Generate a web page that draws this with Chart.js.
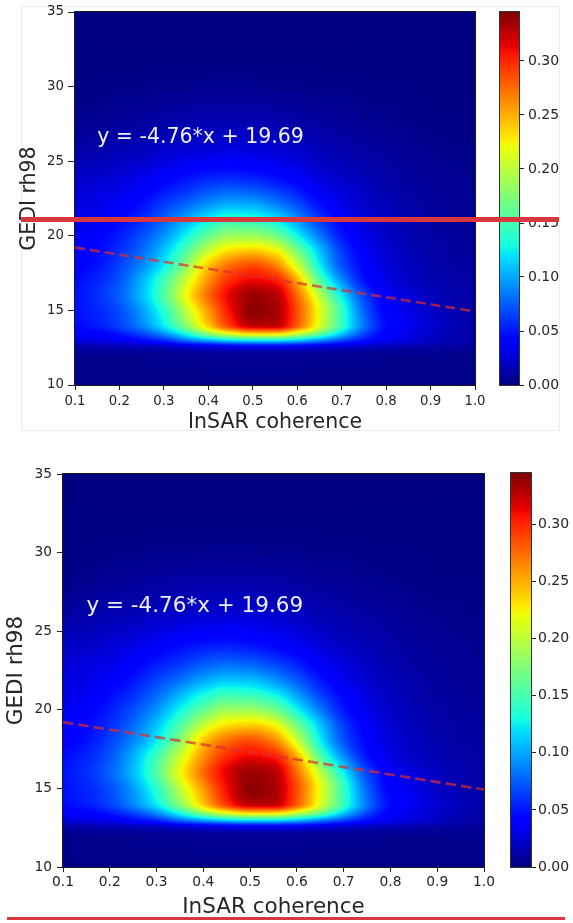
<!DOCTYPE html>
<html lang="en">
<head>
  <meta charset="UTF-8" />
  <title>GEDI rh98 vs InSAR coherence density</title>
  <script src="https://cdn.jsdelivr.net/npm/chart.js"></script>
  <style>
    html, body {
      margin: 0;
      padding: 0;
      background: #fff;
    }
    #page {
      position: relative;
      width: 573px;
      height: 923px;
      overflow: hidden;
    }
    #page canvas, #page .frame, #page .mark {
      position: absolute;
    }
    .frame {
      border: 1px solid #ececec;
    }
    .mark {
      background: #d8383d;
      z-index: 5;
    }
  </style>
</head>
<body>
<div id="page">
  <div class="frame" style="left:21px;top:6px;width:537px;height:423px"></div>
  <canvas id="topMain" width="490" height="440" style="left:0;top:0"></canvas>
  <canvas id="topBar" width="83" height="440" style="left:490px;top:0"></canvas>
  <canvas id="botMain" width="500" height="468" style="left:0;top:455px"></canvas>
  <canvas id="botBar" width="73" height="468" style="left:500px;top:455px"></canvas>
  <div class="mark" style="left:21px;top:217px;width:538px;height:5px"></div>
  <div class="mark" style="left:7px;top:917px;width:558px;height:3px"></div>
</div>

<script>
  // density grid: columns are InSAR coherence, rows are GEDI rh98 (m)
  const COHERENCE = [0.10, 0.15, 0.20, 0.25, 0.30, 0.35, 0.40, 0.45, 0.50, 0.55,
                     0.60, 0.65, 0.70, 0.75, 0.80, 0.85, 0.90, 0.95, 1.00];
  const RH98 = [10, 12, 12.5, 13, 13.5, 14, 15, 16, 17, 18, 19, 20, 21, 22, 23, 24, 25, 26, 27, 28, 30, 32, 35];

  const dens10   = [0.003,0.003,0.003,0.003,0.003,0.003,0.003,0.003,0.003,0.003,0.003,0.003,0.003,0.003,0.003,0.003,0.003,0.003,0.003];
  const dens12   = [0.005,0.005,0.005,0.005,0.006,0.006,0.007,0.007,0.007,0.007,0.007,0.006,0.006,0.006,0.005,0.005,0.005,0.004,0.004];
  const dens12_5 = [0.010,0.012,0.014,0.015,0.017,0.021,0.024,0.028,0.029,0.029,0.028,0.024,0.021,0.017,0.014,0.012,0.010,0.009,0.007];
  const dens13   = [0.028,0.031,0.034,0.045,0.058,0.083,0.103,0.120,0.127,0.127,0.114,0.093,0.069,0.048,0.034,0.028,0.019,0.014,0.010];
  const dens13_5 = [0.038,0.041,0.052,0.069,0.096,0.138,0.189,0.227,0.248,0.248,0.217,0.172,0.117,0.069,0.041,0.031,0.022,0.015,0.010];
  const dens14   = [0.045,0.052,0.065,0.089,0.124,0.179,0.241,0.296,0.327,0.327,0.282,0.213,0.144,0.083,0.045,0.034,0.024,0.017,0.012];
  const dens15   = [0.048,0.055,0.069,0.096,0.138,0.200,0.258,0.310,0.341,0.334,0.286,0.217,0.144,0.076,0.041,0.031,0.021,0.014,0.010];
  const dens16   = [0.048,0.058,0.076,0.107,0.155,0.220,0.275,0.316,0.337,0.330,0.275,0.200,0.124,0.066,0.037,0.027,0.019,0.014,0.010];
  const dens17   = [0.045,0.055,0.072,0.103,0.148,0.206,0.261,0.299,0.313,0.305,0.250,0.158,0.092,0.049,0.030,0.021,0.015,0.012,0.010];
  const dens18   = [0.041,0.048,0.065,0.089,0.124,0.179,0.241,0.275,0.287,0.268,0.208,0.126,0.071,0.042,0.027,0.019,0.014,0.010,0.009];
  const dens19   = [0.038,0.045,0.058,0.079,0.110,0.153,0.203,0.233,0.240,0.225,0.170,0.110,0.063,0.038,0.025,0.017,0.012,0.010,0.008];
  const dens20   = [0.034,0.041,0.052,0.069,0.093,0.127,0.162,0.186,0.186,0.170,0.128,0.085,0.050,0.032,0.021,0.015,0.011,0.009,0.007];
  const dens21   = [0.031,0.034,0.045,0.058,0.078,0.103,0.128,0.144,0.141,0.127,0.096,0.064,0.042,0.028,0.019,0.014,0.010,0.008,0.006];
  const dens22   = [0.028,0.031,0.038,0.048,0.064,0.079,0.096,0.106,0.104,0.091,0.071,0.049,0.032,0.023,0.017,0.012,0.009,0.007,0.006];
  const dens23   = [0.024,0.028,0.031,0.039,0.050,0.060,0.071,0.077,0.074,0.065,0.052,0.036,0.027,0.020,0.014,0.010,0.008,0.006,0.005];
  const dens24   = [0.021,0.022,0.026,0.031,0.039,0.046,0.052,0.054,0.051,0.045,0.037,0.027,0.021,0.016,0.012,0.009,0.007,0.006,0.004];
  const dens25   = [0.015,0.017,0.020,0.023,0.028,0.033,0.036,0.038,0.036,0.032,0.027,0.021,0.016,0.013,0.010,0.007,0.006,0.004,0.003];
  const dens26   = [0.010,0.012,0.015,0.017,0.021,0.023,0.025,0.026,0.026,0.024,0.021,0.016,0.013,0.010,0.008,0.006,0.004,0.003,0.003];
  const dens27   = [0.007,0.008,0.010,0.012,0.014,0.017,0.018,0.019,0.019,0.017,0.014,0.012,0.009,0.007,0.006,0.004,0.003,0.003,0.002];
  const dens28   = [0.004,0.005,0.007,0.008,0.010,0.012,0.013,0.013,0.013,0.012,0.010,0.008,0.007,0.005,0.004,0.003,0.002,0.002,0.002];
  const dens30   = [0.002,0.002,0.003,0.003,0.004,0.004,0.005,0.005,0.005,0.004,0.004,0.003,0.003,0.002,0.002,0.002,0.001,0.001,0.001];
  const dens32   = [0.001,0.001,0.001,0.001,0.001,0.001,0.001,0.001,0.001,0.001,0.001,0.001,0.001,0.001,0.001,0.001,0.001,0.001,0.001];
  const dens35   = [0,0,0,0,0,0,0,0,0,0,0,0,0,0,0,0,0,0,0];

  const DENSITY = [dens10, dens12, dens12_5, dens13, dens13_5, dens14, dens15, dens16, dens17, dens18,
                   dens19, dens20, dens21, dens22, dens23, dens24, dens25, dens26, dens27, dens28,
                   dens30, dens32, dens35];

  const X_TICKS = [0.1, 0.2, 0.3, 0.4, 0.5, 0.6, 0.7, 0.8, 0.9, 1.0];
  const Y_TICKS = [10, 15, 20, 25, 30, 35];
  const CBAR_TICKS = [0, 0.05, 0.10, 0.15, 0.20, 0.25, 0.30];
  const VMAX = 0.345;

  // linear fit shown as dashed line
  const FIT_SLOPE = -4.76;
  const FIT_INTERCEPT = 19.69;
  const FIT_RANGE = [0.1, 1.0];
  const FIT_LABEL = 'y = -4.76*x + 19.69';

  Chart.defaults.font.family = '"DejaVu Sans", sans-serif';
  Chart.defaults.color = '#262626';

  // matplotlib 'jet' segment data
  const JET_R = [[0, 0], [0.35, 0], [0.66, 1], [0.89, 1], [1, 0.5]];
  const JET_G = [[0, 0], [0.125, 0], [0.375, 1], [0.64, 1], [0.91, 0], [1, 0]];
  const JET_B = [[0, 0.5], [0.11, 1], [0.34, 1], [0.65, 0], [1, 0]];

  function seg(pts, t) {
    for (let i = 1; i < pts.length; i++) {
      if (t <= pts[i][0]) {
        const [x0, y0] = pts[i - 1], [x1, y1] = pts[i];
        return y0 + (y1 - y0) * (t - x0) / (x1 - x0);
      }
    }
    return pts[pts.length - 1][1];
  }

  function jet(v) {
    const t = Math.min(1, Math.max(0, v / VMAX));
    return [seg(JET_R, t) * 255, seg(JET_G, t) * 255, seg(JET_B, t) * 255];
  }

  // monotone cubic (pchip) for smooth image resampling, like imshow(interpolation='bicubic')
  function pchip(xs, ys) {
    const n = xs.length, h = [], d = [], m = new Array(n);
    for (let i = 0; i < n - 1; i++) {
      h[i] = xs[i + 1] - xs[i];
      d[i] = (ys[i + 1] - ys[i]) / h[i];
    }
    m[0] = d[0];
    m[n - 1] = d[n - 2];
    for (let i = 1; i < n - 1; i++) {
      if (d[i - 1] * d[i] <= 0) m[i] = 0;
      else {
        const w1 = 2 * h[i] + h[i - 1], w2 = h[i] + 2 * h[i - 1];
        m[i] = (w1 + w2) / (w1 / d[i - 1] + w2 / d[i]);
      }
    }
    return (x) => {
      let i = 0;
      while (i < n - 2 && x > xs[i + 1]) i++;
      const t = Math.min(1, Math.max(0, (x - xs[i]) / h[i]));
      const t2 = t * t, t3 = t2 * t;
      return (2 * t3 - 3 * t2 + 1) * ys[i] + (t3 - 2 * t2 + t) * h[i] * m[i] +
             (-2 * t3 + 3 * t2) * ys[i + 1] + (t3 - t2) * h[i] * m[i + 1];
    };
  }

  const heatmap = {
    id: 'heatmap',
    beforeDatasetsDraw(chart) {
      const { ctx, chartArea: a, scales: { x, y } } = chart;
      const left = Math.round(a.left), top = Math.round(a.top);
      const w = Math.round(a.right) - left, h = Math.round(a.bottom) - top;
      const img = ctx.createImageData(w, h);
      const rowFns = DENSITY.map(row => pchip(COHERENCE, row));
      for (let i = 0; i < w; i++) {
        const xv = x.getValueForPixel(left + i + 0.5);
        const col = pchip(RH98, rowFns.map(f => f(xv)));
        for (let j = 0; j < h; j++) {
          const yv = y.getValueForPixel(top + j + 0.5);
          const [r, g, b] = jet(Math.max(0, col(yv)));
          const k = (j * w + i) * 4;
          img.data[k] = r;
          img.data[k + 1] = g;
          img.data[k + 2] = b;
          img.data[k + 3] = 255;
        }
      }
      ctx.putImageData(img, left, top);
    },
    afterDatasetsDraw(chart, args, opts) {
      const { ctx, chartArea: a, scales: { x, y } } = chart;
      ctx.save();
      ctx.font = opts.noteSize + 'px "DejaVu Sans"';
      ctx.fillStyle = '#eeeef6';
      ctx.textBaseline = 'alphabetic';
      ctx.fillText(FIT_LABEL, x.getPixelForValue(0.15), y.getPixelForValue(26.22));
      ctx.strokeStyle = '#1a1a1a';
      ctx.lineWidth = 1;
      ctx.strokeRect(Math.round(a.left) - 0.5, Math.round(a.top) - 0.5,
                     Math.round(a.right - a.left) + 1, Math.round(a.bottom - a.top) + 1);
      ctx.restore();
    }
  };

  const colorbar = {
    id: 'colorbar',
    beforeDatasetsDraw(chart) {
      const { ctx, chartArea: a, scales: { y } } = chart;
      for (let py = Math.round(a.top); py < Math.round(a.bottom); py++) {
        const [r, g, b] = jet(y.getValueForPixel(py + 0.5));
        ctx.fillStyle = `rgb(${r | 0},${g | 0},${b | 0})`;
        ctx.fillRect(a.left, py, a.right - a.left, 1);
      }
      ctx.strokeStyle = '#333';
      ctx.lineWidth = 1;
      ctx.strokeRect(Math.round(a.left) - 0.5, Math.round(a.top) - 0.5,
                     Math.round(a.right - a.left) + 1, Math.round(a.bottom - a.top) + 1);
    }
  };

  function makePanel(p) {
    new Chart(document.getElementById(p.mainId), {
      type: 'scatter',
      data: {
        datasets: [{
          type: 'line',
          data: FIT_RANGE.map(c => ({ x: c, y: FIT_SLOPE * c + FIT_INTERCEPT })),
          borderColor: 'rgba(220, 45, 50, 0.7)',
          borderWidth: p.lineWidth,
          borderDash: p.dash,
          pointRadius: 0,
          fill: false,
          tension: 0
        }]
      },
      options: {
        responsive: false,
        animation: false,
        layout: { padding: { left: 0, top: p.padTop, right: p.padRight, bottom: 0 } },
        plugins: {
          legend: { display: false },
          tooltip: { enabled: false },
          heatmap: { noteSize: p.noteSize }
        },
        scales: {
          x: {
            type: 'linear',
            min: 0.1,
            max: 1.0,
            afterBuildTicks: s => { s.ticks = X_TICKS.map(v => ({ value: v })); },
            afterFit: s => { s.height = p.xAxisHeight; },
            border: { display: false },
            grid: { drawOnChartArea: false, tickLength: p.xTickLen, tickColor: '#222' },
            ticks: {
              font: { size: p.tickSize },
              padding: p.xTickPad,
              maxRotation: 0,
              callback: v => v.toFixed(1)
            },
            title: {
              display: true,
              text: 'InSAR coherence',
              font: { size: p.titleSize },
              padding: { top: 0, bottom: p.xTitlePad }
            }
          },
          y: {
            type: 'linear',
            min: 10,
            max: 35,
            afterBuildTicks: s => { s.ticks = Y_TICKS.map(v => ({ value: v })); },
            afterFit: s => { s.width = p.yAxisWidth; },
            border: { display: false },
            grid: { drawOnChartArea: false, tickLength: p.yTickLen, tickColor: '#222' },
            ticks: { font: { size: p.tickSize }, padding: p.yTickPad },
            title: {
              display: true,
              text: 'GEDI rh98',
              font: { size: p.titleSize },
              padding: { top: p.yTitlePad, bottom: 0 }
            }
          }
        }
      },
      plugins: [heatmap]
    });

    new Chart(document.getElementById(p.barId), {
      type: 'scatter',
      data: { datasets: [] },
      options: {
        responsive: false,
        animation: false,
        layout: { padding: { left: p.barPadLeft, top: p.barPadTop, right: 0, bottom: p.xAxisHeight } },
        plugins: { legend: { display: false }, tooltip: { enabled: false } },
        scales: {
          x: { type: 'linear', display: false, min: 0, max: 1 },
          y: {
            type: 'linear',
            position: 'right',
            min: 0,
            max: VMAX,
            afterBuildTicks: s => { s.ticks = CBAR_TICKS.map(v => ({ value: v })); },
            afterFit: s => { s.width = p.barAxisWidth; },
            border: { display: false },
            grid: { drawOnChartArea: false, tickLength: p.barTickLen, tickColor: '#222' },
            ticks: { font: { size: p.barTickSize }, padding: p.barTickPad, callback: v => v.toFixed(2) }
          }
        }
      },
      plugins: [colorbar]
    });
  }

  makePanel({
    mainId: 'topMain', barId: 'topBar',
    padTop: 12, padRight: 15, xAxisHeight: 55, yAxisWidth: 75,
    tickSize: 13.3, titleSize: 20.5, noteSize: 20.5,
    xTickLen: 5, xTickPad: 4, yTickLen: 7, yTickPad: 4,
    xTitlePad: 4.7, yTitlePad: 17.7,
    lineWidth: 2.6, dash: [10, 5],
    barPadLeft: 10, barPadTop: 12, barAxisWidth: 54,
    barTickLen: 5, barTickPad: 4, barTickSize: 14
  });

  makePanel({
    mainId: 'botMain', barId: 'botBar',
    padTop: 19, padRight: 16, xAxisHeight: 56, yAxisWidth: 63,
    tickSize: 13.8, titleSize: 21.5, noteSize: 21.5,
    xTickLen: 5, xTickPad: 2.5, yTickLen: 6, yTickPad: 5,
    xTitlePad: 2.6, yTitlePad: 4,
    lineWidth: 2.7, dash: [10.5, 5],
    barPadLeft: 11, barPadTop: 18, barAxisWidth: 42,
    barTickLen: 5, barTickPad: 2, barTickSize: 14
  });
</script>
</body>
</html>
